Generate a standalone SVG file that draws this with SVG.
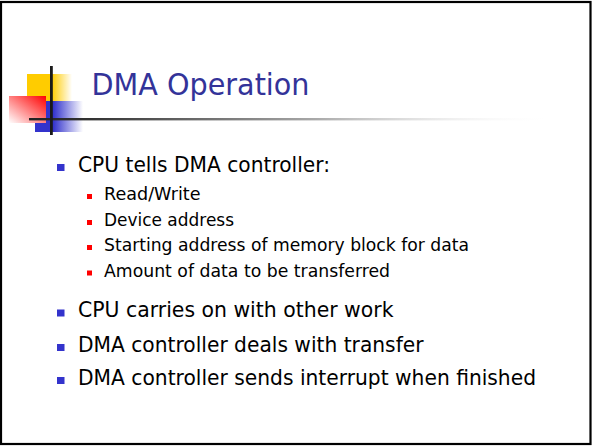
<svg xmlns="http://www.w3.org/2000/svg" width="592" height="446" viewBox="0 0 592 446">
  <defs>
    <linearGradient id="yellowFade" x1="0" y1="0" x2="1" y2="0">
      <stop offset="0" stop-color="#ffcc00"/>
      <stop offset="0.55" stop-color="#ffcc00"/>
      <stop offset="1" stop-color="#ffcc00" stop-opacity="0"/>
    </linearGradient>
    <linearGradient id="blueFade" x1="0" y1="0" x2="1" y2="0">
      <stop offset="0" stop-color="#3333cc"/>
      <stop offset="0.38" stop-color="#3333cc"/>
      <stop offset="1" stop-color="#3333cc" stop-opacity="0"/>
    </linearGradient>
    <linearGradient id="redFade" x1="1" y1="0" x2="0" y2="1">
      <stop offset="0" stop-color="#ff0000"/>
      <stop offset="1" stop-color="#ffffff"/>
    </linearGradient>
    <linearGradient id="ruleFade" x1="0" y1="0" x2="1" y2="0">
      <stop offset="0" stop-color="#222222"/>
      <stop offset="0.12" stop-color="#333333"/>
      <stop offset="0.55" stop-color="#aaaaaa"/>
      <stop offset="1" stop-color="#ffffff" stop-opacity="0"/>
    </linearGradient>
  </defs>
  <style>
    .title { font-family: "DejaVu Sans", "Liberation Sans", sans-serif; font-size: 30px; fill: #333399; }
    .l1 { font-family: "DejaVu Sans", "Liberation Sans", sans-serif; font-size: 22px; fill: #000000; }
    .l2 { font-family: "DejaVu Sans", "Liberation Sans", sans-serif; font-size: 17px; fill: #000000; }
    .b1 { fill: #3333cc; }
    .b2 { fill: #ff0000; }
  </style>

  <!-- slide background and frame -->
  <rect x="0" y="0" width="592" height="446" fill="#ffffff"/>
  <rect x="1" y="2" width="589.5" height="442" fill="none" stroke="#000000" stroke-width="2.2"/>

  <!-- title ornament -->
  <g id="ornament">
    <rect x="27" y="74" width="45" height="27" fill="url(#yellowFade)"/>
    <rect x="35" y="101" width="48" height="31" fill="url(#blueFade)"/>
    <rect x="9" y="96" width="37" height="27" fill="url(#redFade)"/>
    <rect x="29" y="118" width="525" height="2.4" fill="url(#ruleFade)"/>
    <rect x="50" y="66" width="2.8" height="69" fill="#1a1a1a"/>
  </g>

  <g id="title">
    <text class="title" x="91.5" y="95" textLength="218" lengthAdjust="spacingAndGlyphs">DMA Operation</text>
  </g>

  <g id="bullets">
    <rect class="b1" x="57" y="164" width="7.5" height="7"/>
    <text class="l1" x="78" y="171.7" textLength="252" lengthAdjust="spacingAndGlyphs">CPU tells DMA controller:</text>

    <rect class="b2" x="87" y="194" width="5" height="5"/>
    <text class="l2" x="104" y="200" textLength="96.5" lengthAdjust="spacingAndGlyphs">Read/Write</text>
    <rect class="b2" x="87" y="220" width="5" height="5"/>
    <text class="l2" x="104" y="226" textLength="130" lengthAdjust="spacingAndGlyphs">Device address</text>
    <rect class="b2" x="87" y="245" width="5" height="5"/>
    <text class="l2" x="104" y="251" textLength="365" lengthAdjust="spacingAndGlyphs">Starting address of memory block for data</text>
    <rect class="b2" x="87" y="270.5" width="5" height="5"/>
    <text class="l2" x="104" y="276.5" textLength="286" lengthAdjust="spacingAndGlyphs">Amount of data to be transferred</text>

    <rect class="b1" x="57" y="309.5" width="7.5" height="7"/>
    <text class="l1" x="78" y="317.3" textLength="315.5" lengthAdjust="spacingAndGlyphs">CPU carries on with other work</text>
    <rect class="b1" x="57" y="344" width="7.5" height="7"/>
    <text class="l1" x="78" y="351.7" textLength="345.5" lengthAdjust="spacingAndGlyphs">DMA controller deals with transfer</text>
    <rect class="b1" x="57" y="377" width="7.5" height="7"/>
    <text class="l1" x="78" y="384.7" textLength="458" lengthAdjust="spacingAndGlyphs">DMA controller sends interrupt when finished</text>
  </g>
</svg>
